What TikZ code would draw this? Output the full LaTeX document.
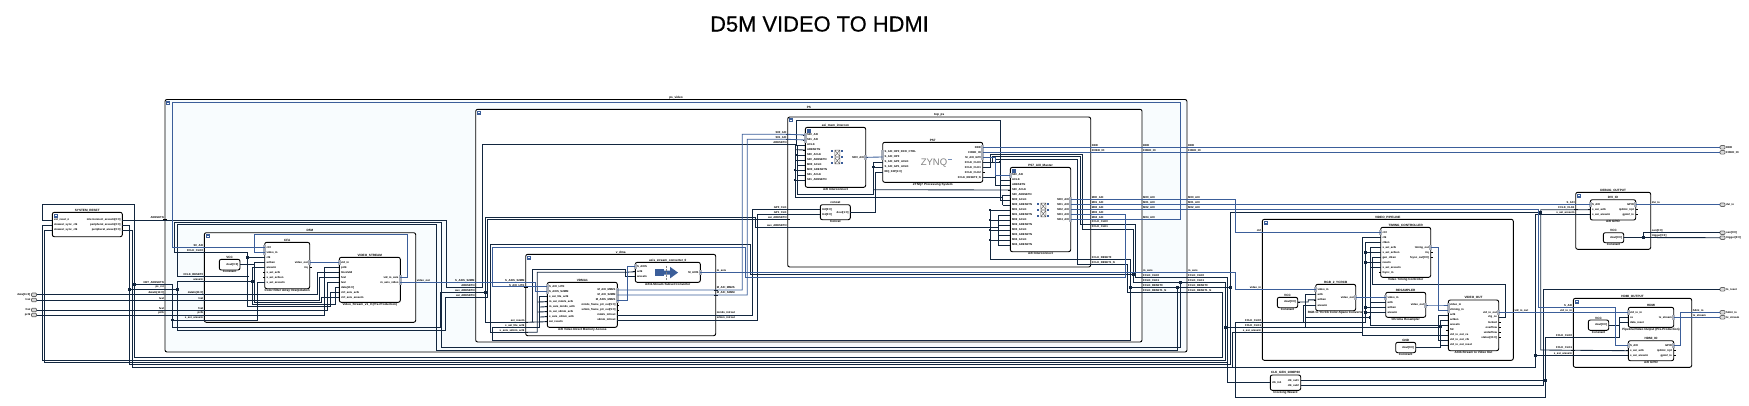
\documentclass[tikz,border=0pt]{standalone}
\usepackage{fontspec}
\setmainfont{Liberation Sans}
\newfontfamily\titlefont[FakeBold=0.5]{Liberation Sans}
\definecolor{wirec}{HTML}{12263F}
\definecolor{bluec}{HTML}{3B5E9A}
\definecolor{psfill}{HTML}{F8FCFE}
\definecolor{barc}{HTML}{A9AEB8}
\tikzset{
  blockst/.style={draw=black,line width=.9pt,fill=white,rounded corners=2pt,inner sep=0pt,outer sep=0pt},
  ttl/.style={font=\fontsize{3.1}{3.6}\selectfont\bfseries,inner sep=.2pt,text=black},
  plab/.style={font=\fontsize{2.75}{3.2}\selectfont\bfseries,inner sep=0pt,text=black},
  tick/.style={draw=black,line width=.7pt},
  w/.style={draw=wirec,line width=.85pt},
  bw/.style={draw=bluec,line width=.85pt},
  extport/.style={draw=gray!80!black,fill=gray!30,line width=.7pt,rounded corners=1pt,minimum width=5pt,minimum height=3.6pt,inner sep=0pt,outer sep=0pt},
}
% name x1 y1 x2 y2 title caption
\newcommand{\blk}[7]{%
  \pgfmathsetmacro\bkw{#4-#2}\pgfmathsetmacro\bkh{#5-#3}%
  \pgfmathsetmacro\bkx{(#4+#2)/2}\pgfmathsetmacro\bky{(#5+#3)/2}%
  \node[blockst,minimum width=\bkw pt,minimum height=\bkh pt] (#1) at (\bkx,\bky) {};
  \node[ttl,anchor=south] (#1-t) at (\bkx,#3-.3) {#6};
  \node[ttl,anchor=north] (#1-c) at (\bkx,#5+.3) {#7};
}
\newcommand{\hier}[7][white]{%
  \pgfmathsetmacro\bkw{#5-#3}\pgfmathsetmacro\bkh{#6-#4}%
  \pgfmathsetmacro\bkx{(#5+#3)/2}\pgfmathsetmacro\bky{(#6+#4)/2}%
  \node[blockst,fill=#1,minimum width=\bkw pt,minimum height=\bkh pt] (#2) at (\bkx,\bky) {};
  \node[ttl,anchor=south] (#2-t) at (\bkx,#4-.3) {#7};
  \fill[bluec] (#3+1.2,#4+1.2) rectangle ++(4,4);
  \draw[white,line width=.4pt] (#3+2.2,#4+3.2) -- ++(2,0);
}
\newcommand{\LP}[5]{%
  \foreach \pinlbl [count=\pinc from 0] in {#5} {
    \pgfmathsetmacro\pinyy{#3+\pinc*#4}\pgfmathtruncatemacro\pinno{\pinc+1}
    \coordinate (#1\pinno) at (#2,\pinyy);
    \node[plab,anchor=west] (#1\pinno-t) at (#2+1.6,\pinyy) {\pinlbl};
    \draw[tick] (#2,\pinyy) -- ++(-2,0);
  }}
\newcommand{\RP}[5]{%
  \foreach \pinlbl [count=\pinc from 0] in {#5} {
    \pgfmathsetmacro\pinyy{#3+\pinc*#4}\pgfmathtruncatemacro\pinno{\pinc+1}
    \coordinate (#1\pinno) at (#2,\pinyy);
    \node[plab,anchor=east] (#1\pinno-t) at (#2-1.6,\pinyy) {\pinlbl};
    \draw[tick] (#2,\pinyy) -- ++(2,0);
  }}
\newcommand{\HL}[4]{\coordinate (#1) at (#2,#3);\node[plab,anchor=south east] (#1-t) at (#2-1,#3-.7) {#4};\draw[tick] (#2-2,#3) -- (#2+2,#3);}
\newcommand{\HR}[4]{\coordinate (#1) at (#2,#3);\node[plab,anchor=south west] (#1-t) at (#2+1,#3-.7) {#4};\draw[tick] (#2-2,#3) -- (#2+2,#3);}
\newcommand{\bus}[2]{\fill[barc] (#1-1.7,#2-2.5) rectangle (#1+1.7,#2+2.5);}
\newcommand{\jd}[2]{\fill[wirec] (#1-1.4,#2-1.4) rectangle (#1+1.4,#2+1.4);}
\newcommand{\xicon}[2]{%
  \foreach \dx in {-5,5}{\foreach \dy in {-5.7,0,5.7}{\fill[bluec] (#1+\dx-1.1,#2+\dy-1.1) rectangle ++(2.2,2.2);}}
  \foreach \dy in {-3.7,3.7}{\draw[gray!70!black,line width=.4pt] (#1-2.5,#2+\dy-3.2) rectangle ++(5,6.4) (#1-2.5,#2+\dy-3.2) -- ++(5,6.4) (#1+2.5,#2+\dy-3.2) -- ++(-5,6.4);}
}
\begin{document}
\catcode`\_=12
\begin{tikzpicture}[x=1pt,y=-1pt]
\useasboundingbox (0,0) rectangle (1749,405);
\node[font=\fontsize{21.9}{26}\titlefont] (title) at (819.5,24) {D5M VIDEO TO HDMI};

%% ---------- blocks
\hier{sysr}{52.3}{212.3}{122.3}{236.7}{SYSTEM_RESET}
\LP{srl}{52.3}{220}{5}{ext_reset_n,slowest_sync_clk,slowest_sync_clk}
\RP{srr}{122.3}{220}{5}{interconnect_aresetn[0:0],peripheral_aresetn[0:0],peripheral_areset[0:0]}

\hier[psfill]{psv}{165}{99.5}{1187}{352}{ps_video}
\hier{dma}{204.3}{232.7}{415.7}{322.3}{D5M}
\blk{cfa}{264.7}{242.3}{309.7}{288.7}{CFA}{Color Filter Array Interpolation}
\blk{vst}{339.3}{257.3}{400.3}{302.3}{VIDEO_STREAM}{Video_Stream_v1_0 (Pre-Production)}
\blk{vcca}{219.3}{259.3}{240}{270}{VCC}{Constant}
\RP{vcao}{240}{264.3}{5}{dout[0:0]}
\LP{cf}{264.7}{247.3}{5}{ctrl,video_in,clk,aclken,aresetn,s_axi_aclk,s_axi_aclken,s_axi_aresetn}
\RP{cfr}{309.7}{262.3}{5}{video_out,irq}
\LP{vs}{339.3}{262.3}{5}{vid_in,pclk,lineValid,fval,lval,data[11:0],ctrl_axis_aclk,ctrl_axis_aresetn}
\RP{vsr}{400.3}{277.3}{5}{vid_io_axis,m_axis_video}
\foreach \yy in {247.3,252.3}{\bus{264.7}{\yy}} \bus{309.7}{262.3}\bus{339.3}{262.3}\bus{400.3}{277.3}\bus{400.3}{282.3}
\HL{dS}{204.3}{247.3}{S0_AXI}
\HL{dclk}{204.3}{252.7}{FCLK_CLK0}
\HL{drst}{204.3}{276.7}{FCLK_RESET0}
\HL{dar}{204.3}{281.7}{aresetn}
\HL{ddata}{204.3}{294.7}{dataIn[11:0]}
\HL{dlval}{204.3}{300}{lval}
\HL{dfval}{204.3}{310}{fval}
\HL{dpclk}{204.3}{315}{pclk}
\HL{dsr}{204.3}{320}{s_axi_aresetn}
\HR{dout}{415.7}{282.3}{video_out}
\HL{pvA}{165}{219.3}{ARESETN}
\HL{pvB}{165}{284.3}{NET_ARESETN}
\HL{pvC}{165}{289.3}{ps_rst}
\HL{pvD}{165}{294.7}{dataIn[11:0]}
\HL{pvE}{165}{300}{lval}
\HL{pvF}{165}{310}{fval}
\HL{pvG}{165}{315}{pclk}

\hier{ps}{475.7}{109.3}{1142}{342}{PS}
\HL{psS}{475.7}{282.3}{S_AXIS_S2MM}
\HL{psA}{475.7}{287.3}{ARESETN}
\HL{psB}{475.7}{292.3}{aux_ARESETN}
\HL{psC}{475.7}{297.3}{axi_ARESETN}

\hier{vd}{525.7}{254.3}{715.7}{335.7}{v_dma}
\blk{vdm}{547.3}{282.3}{617.3}{327.3}{VDMA1}{AXI Video Direct Memory Access}
\blk{cv}{635.3}{262.3}{700.3}{282.3}{axis_stream_converter_0}{AXI4-Stream Subset Converter}
\LP{vm}{547.3}{286.7}{5}{S_AXI_LITE,S_AXIS_S2MM,s_axi_lite_aclk,m_axi_mm2s_aclk,m_axis_mm2s_aclk,m_axi_s2mm_aclk,s_axis_s2mm_aclk,axi_resetn}
\RP{vmr}{617.3}{290}{5}{M_AXI_MM2S,M_AXI_S2MM,M_AXIS_MM2S,mm2s_frame_ptr_out[5:0],s2mm_frame_ptr_out[5:0],mm2s_introut,s2mm_introut}
\LP{cvl}{635.3}{266.7}{5}{S_AXIS,aclk,aresetn}
\RP{cvr}{700.3}{272.3}{5}{M_AXIS}
\bus{547.3}{286.7}\bus{547.3}{291.7}\bus{617.3}{290}\bus{617.3}{295}\bus{617.3}{300}\bus{635.3}{266.7}\bus{700.3}{272.3}
\fill[bluec] (655,269) rectangle (663.5,276.3);
\fill[bluec] (663.5,270.6) -- (670,270.6) -- (670,266.8) -- (678,272.6) -- (670,278.4) -- (670,274.7) -- (663.5,274.7) -- cycle;
\draw[gray,densely dotted,line width=.5pt] (666,265.5) -- (666,280);
\HL{vdS}{525.7}{282.3}{S_AXIS_S2MM}
\HL{vdL}{525.7}{287.3}{S_AXI_LITE}
\HL{vdA}{525.7}{322.3}{axi_resetn}
\HL{vdB}{525.7}{327.3}{s_axi_lite_aclk}
\HL{vdC}{525.7}{332.3}{s_axis_s2mm_aclk}
\HR{vdM}{715.7}{272.3}{m_axis}
\HR{vdM1}{715.7}{290}{M_AXI_MM2S}
\HR{vdM2}{715.7}{295}{M_AXI_S2MM}
\HR{vdI1}{715.7}{315}{mm2s_introut}
\HR{vdI2}{715.7}{320}{s2mm_introut}

\hier{tp}{787.7}{117}{1090.7}{267}{top_ps}
\HL{tpS0}{787.7}{134.3}{S00_AXI}
\HL{tpS1}{787.7}{139.3}{S01_AXI}
\HL{tpA}{787.7}{144.3}{ARESETN}
\HL{tpG0}{787.7}{209.3}{GP0_CLK}
\HL{tpG1}{787.7}{214.3}{GP1_CLK}
\HL{tpB}{787.7}{219.3}{axi_ARESETN}
\HL{tpC}{787.7}{227.3}{aux_ARESETN}
\HR{tpD}{1090.7}{147.3}{DDR}
\HR{tpE}{1090.7}{152.3}{FIXED_IO}
\HR{tpM0}{1090.7}{199.7}{M00_AXI}
\HR{tpM1}{1090.7}{204.7}{M01_AXI}
\HR{tpM2}{1090.7}{209.7}{M02_AXI}
\HR{tpM3}{1090.7}{214.7}{M03_AXI}
\HR{tpM4}{1090.7}{219.7}{M04_AXI}
\HR{tpF0}{1090.7}{224}{FCLK_CLK0}
\HR{tpF1}{1090.7}{229}{FCLK_CLK1}
\HR{tpR0}{1090.7}{259.5}{FCLK_RESET0}
\HR{tpR1}{1090.7}{264.3}{FCLK_RESET1_N}

\blk{im}{805.3}{127.3}{865.7}{187.3}{axi_mem_intercon}{AXI Interconnect}
\LP{imc}{805.3}{135}{5}{S00_AXI,S01_AXI,ACLK,ARESETN,S00_ACLK,S00_ARESETN,M00_ACLK,M00_ARESETN,S01_ACLK,S01_ARESETN}
\RP{imr}{865.7}{157.3}{5}{M00_AXI}
\bus{805.3}{135}\bus{805.3}{140}\bus{865.7}{157.3}
\fill[bluec] (806.5,128.5) rectangle ++(4,4);
\xicon{837.3}{157}
\blk{p7}{882.7}{142.3}{982.7}{182.3}{PS7}{ZYNQ7 Processing System}
\LP{pl}{882.7}{152}{5}{S_AXI_HP0_FIFO_CTRL,S_AXI_HP0,S_AXI_GP0_ACLK,S_AXI_GP1_ACLK,IRQ_F2P[1:0]}
\RP{pr}{982.7}{147.3}{5}{DDR,FIXED_IO,M_AXI_GP0,FCLK_CLK0,FCLK_CLK1,FCLK_CLK2,FCLK_RESET0_N}
\bus{882.7}{152}\bus{882.7}{157}\bus{982.7}{147.3}\bus{982.7}{152.3}\bus{982.7}{157.3}
\node[font=\fontsize{9.5}{10}\selectfont,text=gray] (zynq) at (934,163) {ZYNQ};
\fill[bluec!70] (948,158.5) rectangle ++(3.5,1.6);
\blk{ma}{1010.3}{167.3}{1070.7}{251.7}{PS7_AXI_Master}{AXI Interconnect}
\LP{ma}{1010.3}{175}{5}{S00_AXI,ACLK,ARESETN,S00_ACLK,S00_ARESETN,M00_ACLK,M00_ARESETN,M01_ACLK,M01_ARESETN,M02_ACLK,M02_ARESETN,M03_ACLK,M03_ARESETN,M04_ACLK,M04_ARESETN}
\RP{mr}{1070.7}{199.7}{5}{M00_AXI,M01_AXI,M02_AXI,M03_AXI,M04_AXI}
\bus{1010.3}{175}\foreach \yy in {199.7,204.7,209.7,214.7,219.7}{\bus{1070.7}{\yy}}
\fill[bluec] (1011.5,168.5) rectangle ++(4,4);
\xicon{1043.3}{210}
\blk{cc}{820.3}{204.7}{850.3}{219.7}{concat}{Concat}
\LP{cc}{820.3}{209.3}{5}{In0[0:0],In1[0:0]}
\RP{ccr}{850.3}{212.3}{5}{dout[1:0]}

%% right hand hierarchical labels of ps and ps_video
\HR{a1}{1142}{147.3}{DDR}\HR{a2}{1142}{152.3}{FIXED_IO}
\HR{a3}{1142}{199.7}{M00_AXI}\HR{a4}{1142}{204.7}{M01_AXI}\HR{a5}{1142}{209.7}{M02_AXI}\HR{a6}{1142}{219.7}{M04_AXI}
\HR{a7}{1142}{272.3}{m_axis}\HR{a8}{1142}{277.3}{FCLK_CLK0}\HR{a9}{1142}{282.3}{FCLK_CLK1}\HR{a10}{1142}{287.3}{FCLK_RESET0}\HR{a11}{1142}{292.5}{FCLK_RESET1_N}
\HR{c1}{1187}{147.3}{DDR}\HR{c2}{1187}{152.3}{FIXED_IO}
\HR{c3}{1187}{199.7}{M00_AXI}\HR{c4}{1187}{204.7}{M01_AXI}\HR{c5}{1187}{209.7}{M02_AXI}
\HR{c7}{1187}{272.3}{m_axis}\HR{c8}{1187}{277.3}{FCLK_CLK0}\HR{c9}{1187}{282.3}{FCLK_CLK1}\HR{c10}{1187}{287.3}{FCLK_RESET0}\HR{c11}{1187}{292.5}{FCLK_RESET1_N}

%% video pipeline
\hier{vp}{1262.3}{219.3}{1513.3}{360.3}{VIDEO_PIPELINE}
\HL{vpC}{1262.3}{232.3}{ctrl}
\HL{vpV}{1262.3}{289.3}{video_in}
\HL{vp1}{1262.3}{322.3}{FCLK_CLK0}
\HL{vp2}{1262.3}{327.5}{FCLK_CLK1}
\HL{vp3}{1262.3}{332.3}{s_axi_aresetn}
\HR{vpO}{1513.3}{312.3}{vid_io_out}
\blk{tc}{1380.7}{227.3}{1430.7}{277.3}{TIMING_CONTROLLER}{Video Timing Controller}
\LP{tc}{1380.7}{232.3}{5}{ctrl,clk,clken,s_axi_aclk,s_axi_aclken,gen_clken,resetn,s_axi_aresetn,fsync_in}
\RP{tcr}{1430.7}{247.3}{5}{timing_out,irq,fsync_out[0:0]}
\bus{1380.7}{232.3}\bus{1430.7}{247.3}
\blk{rs}{1385.7}{292.3}{1425.7}{317.3}{RESAMPLER}{Chroma Resampler}
\LP{rs}{1385.7}{297.3}{5}{video_in,aclk,aclken,aresetn}
\RP{rsr}{1425.7}{305}{5}{video_out}
\bus{1385.7}{297.3}\bus{1425.7}{305}
\blk{rg}{1315.7}{284.3}{1355.7}{310.7}{RGB_2_YCRCB}{RGB to YCrCb Color-Space Converter}
\LP{rg}{1315.7}{289.3}{5.3}{video_in,aclk,aclken,aresetn}
\RP{rgr}{1355.7}{297.3}{5}{video_out}
\bus{1315.7}{289.3}\bus{1355.7}{297.3}
\blk{vcb}{1277.3}{297.3}{1297.7}{307.7}{VCC}{Constant}
\RP{vcbo}{1297.7}{302}{5}{dout[0:0]}
\blk{vo}{1448.3}{300}{1498.7}{350.7}{VIDEO_OUT}{AXI4-Stream to Video Out}
\LP{vo}{1448.3}{305}{5}{video_in,vtiming_in,aclk,aclken,aresetn,fid,vid_io_out_ce,vid_io_out_clk,vid_io_out_reset}
\RP{vor}{1498.7}{312.3}{5}{vid_io_out,vtg_ce,locked,overflow,underflow,status[31:0]}
\bus{1448.3}{305}\bus{1448.3}{310}\bus{1498.7}{312.3}
\blk{gnd}{1395.7}{342.3}{1415.7}{352.7}{GND}{Constant}
\RP{gndo}{1415.7}{347.3}{5}{dout[0:0]}
\blk{cg}{1270.3}{375}{1300.7}{390.3}{CLK_GEN_1080P60}{Clocking Wizard}
\LP{cgl}{1270.3}{382.3}{5}{clk_in1}
\RP{cgr}{1300.7}{380.3}{5.3}{clk_out1,clk_out2}

%% debug
\hier{db}{1575.7}{192.3}{1650.7}{249.3}{DEBUG_OUTPUT}
\blk{dv}{1590.3}{199.7}{1635.7}{220}{DVI_IO}{AXI GPIO}
\LP{dv}{1590.3}{204.7}{5}{S_AXI,s_axi_aclk,s_axi_aresetn}
\RP{dvr}{1635.7}{204.7}{5}{GPIO,ip2intc_irpt,gpio2_io}
\bus{1590.3}{204.7}\bus{1635.7}{204.7}
\blk{vcd}{1603.3}{232.7}{1623.7}{242.7}{VCC}{Constant}
\RP{vcdo}{1623.7}{237.5}{5}{dout[0:0]}
\HL{dbS}{1575.7}{204.7}{S_AXI}
\HL{dbC}{1575.7}{209.7}{FCLK_CLK1}
\HL{dbR}{1575.7}{214.3}{s_axi_aresetn}
\HR{dbO}{1650.7}{204.7}{dvi_io}
\HR{dbT}{1650.7}{232.7}{oen[0:0]}
\HR{dbU}{1650.7}{237.5}{trigger[0:0]}

%% hdmi
\hier{ho}{1573.3}{298.3}{1691.7}{367.3}{HDMI_OUTPUT}
\blk{hd}{1628.3}{307.3}{1673.7}{327.3}{HDMI}{Pipeline/Video Output (Pre-Production)}
\LP{hd}{1628.3}{312.3}{5}{vid_io_in,ce,data_reset}
\RP{hdr}{1673.7}{317.3}{5}{tx_stream}
\bus{1628.3}{312.3}\bus{1673.7}{317.3}
\blk{hi}{1628.3}{340.7}{1673.7}{360.7}{HDMI_IO}{AXI GPIO}
\LP{hi}{1628.3}{345.7}{5}{S_AXI,s_axi_aclk,s_axi_aresetn}
\RP{hir}{1673.7}{345.7}{5}{GPIO,ip2intc_irpt,gpio2_io}
\bus{1628.3}{345.7}\bus{1673.7}{345.7}
\blk{vce}{1588.3}{320}{1608.7}{330.3}{VCC}{Constant}
\RP{vceo}{1608.7}{325}{5}{dout[0:0]}
\HL{hoS}{1573.3}{307.3}{S_AXI}
\HL{hoV}{1573.3}{312.3}{vid_io_in}
\HL{hoC}{1573.3}{337.3}{FCLK_CLK0}
\HL{hoD}{1573.3}{350}{FCLK_CLK1}
\HL{hoR}{1573.3}{355.7}{s_axi_aresetn}
\HR{hoO}{1691.7}{312.3}{hdmi_io}
\HR{hoT}{1691.7}{317.3}{tx_stream}

%% external ports
\foreach \nm/\yy/\tx in {pa/294.7/data[11:0],pb/300/lval,pc/310/fval,pd/315/pclk}{
  \node[extport] (\nm) at (34,\yy) {};
  \node[plab,anchor=east] (\nm-t) at (30.5,\yy) {\tx};
}
\foreach \nm/\yy/\tx in {qa/147.3/DDR,qb/152.3/FIXED_IO,qc/204.7/dvi_io,qd/232.7/oen[0:0],qe/237.7/trigger[0:0],qf/289.3/lo_reset,qg/312.3/hdmi_io,qh/317.3/tx_stream}{
  \node[extport] (\nm) at (1722.5,\yy) {};
  \node[plab,anchor=west] (\nm-t) at (1726,\yy) {\tx};
}

%% ---------- dark wires: top level and ps_video
\draw[w] (pa.east) -- (ddata); \draw[w] (pb.east) -- (dlval); \draw[w] (pc.east) -- (dfval); \draw[w] (pd.east) -- (dpclk);
\draw[w] (srl1) -| (42.3,204.3) -- (134.3,204.3) -- (134.3,357.7) -- (1222.3,357.7) -- (1222.3,292.5) -- (1127.3,292.5) |- (tpR1);
\draw[w] (srl2) -| (42.7,360.7) -- (1225.7,360.7) -- (1225.7,282.3) -- (1133.3,282.3) |- (tpF1);
\draw[w] (srl3) -| (44.3,362.3) -- (1227.7,362.3);
\draw[w] (tpF0) -| (1135.7,277.3) -- (1227.7,277.3) |- (cgl1);
\draw[w] (srr1) -| (446,287.3) -- (psA) -| (482.3,144.3) -- (tpA);
\draw[w] (srr2) -| (129.3,364.7) -- (1230.3,364.7) -- (1230.3,212.7) -- (1540.7,212.7);
\draw[w] (srr3) -| (132.3,367.3) -- (1535.7,367.3) |- (dv3);
\draw[w] (132.7,284.3) -- (172.3,284.3) -- (172.3,327.3) -- (440.7,327.3) -- (440.7,292.3) -- (psB) -- (485.7,292.3);
\draw[w] (172.3,320) -- (dsr);
\draw[w] (129.3,289.3) -- (177.7,289.3);
\draw[w] (dar) -| (177.7,330) -- (445.7,330) |- (psC);
\draw[w] (dclk) -| (174.3,222.5) -- (441.7,222.5) -- (441.7,347.5) -- (1180.3,347.5) -- (1180.3,282.3);
\draw[w] (drst) -| (177.7,224.3) -- (436.7,224.3) -- (436.7,350) -- (1177.7,350) -- (1177.7,287.3);
\draw[w] (tpR0) -| (1130.7,340.7) -- (492.3,340.7) |- (vdB);
\draw[w] (1130.7,287.3) -- (1230.3,287.3);
\draw[w] (1133.3,274.3) -- (750.7,274.3) -- (750.7,244.3) -- (490.7,244.3) |- (vdC);
\draw[w] (485.7,217.3) -- (755.7,217.3) |- (tpC);
\draw[w] (485.7,217.3) |- (vdA);
\draw[w] (psC) -| (487.3,219.3) -- (tpB);
\draw[w] (vdI1) -| (752.3,209.3) -- (tpG0);
\draw[w] (vdI2) -| (757.3,214.3) -- (tpG1);
\draw[w] (vmr6) -- (vdI1); \draw[w] (vmr7) -- (vdI2);
%% dma inner
\draw[w] (dpclk) -| (324.3,267.3) -- (vs2);
\draw[w] (ddata) -| (317.7,272.3) -- (vs3);
\draw[w] (dlval) -| (319.3,277.3) -- (vs4);
\draw[w] (dfval) -| (327.7,282.3) -- (vs5);
\draw[w] (dclk) -| (247.7,306) -- (330,306) |- (vs7);
\draw[w] (247.7,257.3) -- (cf3);
\draw[w] (vcao1) -| (254.3,262.3) -- (cf4);
\draw[w] (254.3,262.3) -- (254.3,302.3) -- (321,302.3) |- (vs8);
\draw[w] (cf5) -| (252.3,304) -- (335,304) |- (vs6);
\draw[w] (dar) -- (252.3,281.7);
\draw[w] (drst) -- (249.3,276.7);
\draw[w] (dsr) -- (257.3,320) |- (cf8);
%% v_dma inner
\draw[w] (vdC) -- (537.3,332.3) -- (537.3,272.3) -- (625,272.3) -- (cvl2);
\draw[w] (537.3,302) -- (vm4); \draw[w] (537.3,312) -- (vm6);
\draw[w] (vdB) -- (539.3,327.3) |- (vm3);
\draw[w] (539.3,307) -- (vm5); \draw[w] (539.3,317) -- (vm7);
\draw[w] (vdA) -- (vm8);
\draw[w] (532.7,322.3) -- (532.7,269) -- (625.7,269) |- (cvl3);
%% top_ps inner
\draw[w] (tpA) -| (795,197.3) -- (1002.7,197.3);
\draw[w] (795,149.7) -- (imc4);
\draw[w] (795,160) -- (imc6); \draw[w] (795,170) -- (imc8); \draw[w] (795,180) -- (imc10);
\draw[w] (imc3) -| (796.7,120.3) -- (1000,120.3) |- (ma6);
\draw[w] (imc3) -| (797,194.3) -- (873.3,194.3) -- (873.3,162) -- (pl3);
\draw[w] (797,155) -- (imc5); \draw[w] (797,165) -- (imc7); \draw[w] (797,175) -- (imc9);
\draw[w] (873.3,167) -- (pl4);
\draw[w] (873.3,189.7) -- (ma4);
\draw[w] (ccr1) -| (875.7,172) -- (pl5);
\draw[w] (tpG0) -- (cc1); \draw[w] (tpG1) -- (cc2);
\draw[w] (pr4) -| (992.3,156.7) -- (1080,156.7) |- (tpF0);
\draw[w] (992.3,162) -- (1000,162);
\draw[w] (pr5) -| (990.7,154.3) -- (1082.3,154.3) |- (tpF1);
\draw[w] (pr7) -| (995,159.3) -- (1077.3,159.3) |- (tpR1);
\draw[w] (995,177) |- (ma3);
\draw[w] (1000,180) -- (ma2);
\draw[w] (1002.7,195) -- (1002.7,205);
\draw[w] (1002.7,195) -- (ma5); \draw[w] (1002.7,205) -- (ma7);
\draw[w] (tpR0) -- (990,259.5) -- (990,210) -- (ma8);
\draw[w] (990,220) -- (ma10); \draw[w] (990,230) -- (ma12); \draw[w] (990,240) -- (ma14);
\draw[w] (tpC) -- (998.3,227.3);
\draw[w] (998.3,215) -- (998.3,245);
\draw[w] (998.3,215) -- (ma9); \draw[w] (998.3,225) -- (ma11); \draw[w] (998.3,235) -- (ma13); \draw[w] (998.3,245) -- (ma15);
%% video pipeline inner
\draw[w] (tc2) -| (1362.3,335) -- (vo7);
\draw[w] (vp1) -- (1365.7,322.3);
\draw[w] (tc3) -| (1365.7,322.3);
\draw[w] (tc5) -- (1365.7,252.3); \draw[w] (tc7) -- (1365.7,262.3);
\draw[w] (rs3) -- (1365.7,307.3); \draw[w] (rs4) -- (1365.7,312.3);
\draw[w] (tc4) -| (1370,325.7) -- (1440.7,325.7);
\draw[w] (tc8) -- (1370,267.3); \draw[w] (rs2) -- (1370,302.3);
\draw[w] (1370,317.7) -- (1305.7,317.7);
\draw[w] (rg2) -| (1305.7,327.5);
\draw[w] (vp2) -- (1440.7,327.5);
\draw[w] (vp3) -- (1362.3,332.3);
\draw[w] (tc6) -| (1372.3,284.3) -- (1505.7,284.3) |- (vor2);
\draw[w] (vcbo1) -| (1308.3,299.9) -- (rg3);
\draw[w] (rg4) -| (1303.5,322.3);
\draw[w] (vo3) -| (1438.3,340) -- (vo8);
\draw[w] (vo4) -| (1440.7,347.3) -- (gndo1);
\draw[w] (1440.7,325) -- (vo5); \draw[w] (1440.7,345) -- (vo9);
\draw[w] (cgl1) -- (1227.7,382.3);
\draw[w] (1232.3,366.7) |- (vp3);
\draw[w] (1225.7,327.5) -- (vp2);
\draw[w] (vp1) -| (1235.7,397.3) -- (1545.7,397.3) |- (hoC);
\draw[w] (hoC) -- (1619,337.3) |- (hd3);
\draw[w] (vceo1) -| (1619,317.3) -- (hd2);
\draw[w] (cgr1) -- (1545.7,380.3);
\draw[w] (cgr2) -- (1543.3,385.6) |- (qf.west);
\draw[w] (dv2) -| (1540.7,350) -- (hi2);
\draw[w] (1535.7,355.7) -- (hi3);
\draw[w] (vcdo1) -- (1643.3,237.5) |- (dbT) -- (qd.west);
\draw[w] (vcdo1) -- (qe.west);

%% ---------- blue wires
\draw[bw] (pr1) -- (qa.west);
\draw[bw] (pr2) -- (qb.west);
\draw[bw] (vsr2) -- (psS) -- (535.7,282.3) |- (vm2);
\draw[bw] (vm1) -| (492.3,247.7) -- (745.7,247.7) -- (745.7,277.3) -- (1125.7,277.3) |- (tpM3);
\draw[bw] (mr4) -- (tpM3);
\draw[bw] (vmr1) -| (742.3,134.3) -- (tpS0) -- (imc1);
\draw[bw] (vmr2) -| (747.3,139.3) -- (tpS1) -- (imc2);
\draw[bw] (vmr3) -| (627.3,266.7) -- (cvl1);
\draw[bw] (cvr1) -- (vdM) -- (1235.7,272.3) |- (vpV) -- (rg1);
\draw[bw] (mr1) -| (1235.7,232.3) -- (vpC) -- (tc1);
\draw[bw] (mr2) -- (dbS) -- (dv1);
\draw[bw] (mr3) -| (1538.7,307.3) -- (1615.7,307.3) |- (hi1);
\draw[bw] (mr5) -| (1180.7,102.7) -- (172.3,102.7) |- (cf1);
\draw[bw] (imr1) -- (pl2);
\draw[bw] (pr3) -| (995.7,175) -- (ma1);
\draw[bw] (vsr1) -| (407.3,234.3) -- (254.3,234.3) |- (cf2);
\draw[bw] (cfr1) -- (vs1);
\draw[bw] (rgr1) -- (rs1);
\draw[bw] (rsr1) -| (1440,305) -- (vo1);
\draw[bw] (tcr1) -| (1438.3,310) -- (vo2);
\draw[bw] (vor1) -- (hd1);
\draw[bw] (dvr1) -- (qc.west);
\draw[bw] (hir1) -| (1680.7,312.3) -- (qg.west);
\draw[bw] (hdr1) -- (qh.west);

%% ---------- junctions
\foreach \jx/\jy in {134.3/284.3,129.3/289.3,177.7/289.3,172.3/320,247.7/257.3,252.3/281.7,
  1130.7/287.3,1177.7/287.3,1180.3/282.3,1133.3/274.3,1230.3/287.3,1225.7/327.5,
  485.7/292.3,1365.7/307.3,1365.7/312.3,1365.7/252.3,1365.7/262.3,1440.7/326.7,
  1370/317.7,1540.7/212.7,1535.7/355.7,1545.7/380.3,1643.3/237.5,795/170,795/180,797/155,
  990/210,990/220,990/230,990/240,1000/162,873.3/167}{
  \jd{\jx}{\jy}
}
\end{tikzpicture}
\end{document}
